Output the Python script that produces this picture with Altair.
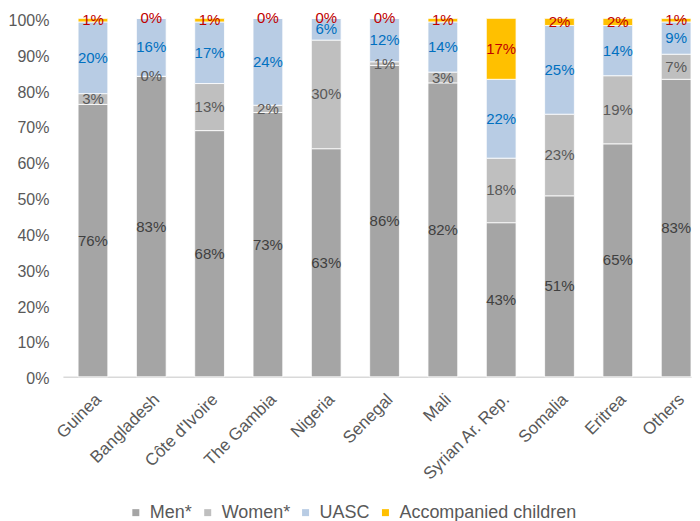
import altair as alt
import pandas as pd

countries = ["Guinea", "Bangladesh", "Côte d'Ivoire", "The Gambia", "Nigeria",
             "Senegal", "Mali", "Syrian Ar. Rep.", "Somalia", "Eritrea", "Others"]
categories = ["Men*", "Women*", "UASC", "Accompanied children"]
men = [76, 83, 68, 73, 63, 86, 82, 43, 51, 65, 83]
women = [3, 0, 13, 2, 30, 1, 3, 18, 23, 19, 7]
uasc = [20, 16, 17, 24, 6, 12, 14, 22, 25, 14, 9]
accomp = [1, 0, 1, 0, 0, 0, 1, 17, 2, 2, 1]
y_ticks = [0, 0.1, 0.2, 0.3, 0.4, 0.5, 0.6, 0.7, 0.8, 0.9, 1.0]

bar_colors = ["#a5a5a5", "#bfbfbf", "#b8cce4", "#ffc000"]
label_colors = ["#404040", "#595959", "#0070c0", "#c00000"]

rows = []
series = [men, women, uasc, accomp]
for ci, c in enumerate(countries):
    for k, cat in enumerate(categories):
        rows.append({"country": c, "category": cat, "order": k,
                     "value": series[k][ci], "label": f"{series[k][ci]}%",
                     "lcolor": label_colors[k]})
df = pd.DataFrame(rows)

FONT = "Liberation Sans"

base = alt.Chart(df).transform_joinaggregate(
    total="sum(value)", groupby=["country"]
).transform_calculate(
    frac="datum.value / datum.total"
).transform_stack(
    stack="frac", groupby=["country"], as_=["y0", "y1"],
    sort=[alt.SortField("order", order="ascending")]
).transform_calculate(
    mid="(datum.y0 + datum.y1) / 2"
)

x_axis = alt.Axis(labelAngle=-45, labelFontSize=17, labelColor="#595959",
                  labelFont=FONT, ticks=False, domainColor="#d9d9d9",
                  domainWidth=1.5, labelPadding=14, title=None)
y_axis = alt.Axis(format=".0%", values=y_ticks, title=None,
                  labelFontSize=16, labelColor="#595959", labelFont=FONT,
                  labelOverlap=False, labelOffset=2,
                  domain=False, ticks=False, grid=False, labelPadding=14)
x_scale = alt.Scale(paddingInner=0.49, paddingOuter=0.13, align=1)
y_scale = alt.Scale(domain=[0, 1], nice=False)

bars = base.mark_bar(stroke="white", strokeWidth=0.8).encode(
    x=alt.X("country:N", sort=countries, scale=x_scale, axis=x_axis),
    y=alt.Y("y1:Q", scale=y_scale, axis=y_axis),
    y2="y0:Q",
    color=alt.Color("category:N", sort=categories,
                    scale=alt.Scale(domain=categories, range=bar_colors),
                    legend=alt.Legend(title=None, orient="none", direction="horizontal",
                                      legendX=64, legendY=486,
                                      symbolType="square", symbolSize=49,
                                      symbolStrokeWidth=0,
                                      labelFontSize=18, labelColor="#595959",
                                      labelFont=FONT, columnPadding=6,
                                      labelOffset=5, labelLimit=400)),
    order=alt.Order("order:Q"),
)

texts = base.mark_text(fontSize=15, font=FONT, baseline="middle").encode(
    x=alt.X("country:N", sort=countries, scale=x_scale, axis=x_axis),
    y=alt.Y("mid:Q", scale=y_scale, axis=y_axis),
    text="label:N",
    color=alt.Color("lcolor:N", scale=None),
)

chart = alt.layer(bars, texts).properties(
    width=629, height=359,
    padding={"left": 0, "top": 3, "right": 0, "bottom": 0},
).configure_view(stroke=None)

chart.save("out.html", embed_options={"renderer": "svg", "actions": False})
